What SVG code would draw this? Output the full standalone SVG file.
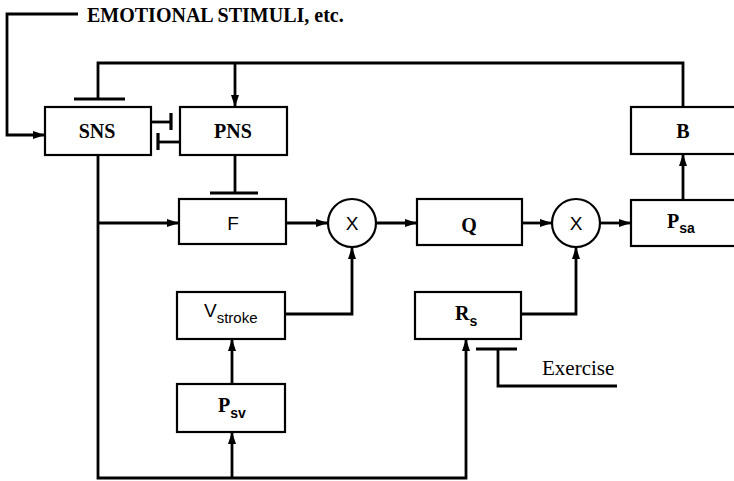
<svg xmlns="http://www.w3.org/2000/svg" width="734" height="481" viewBox="0 0 734 481">
<style>
.box{fill:#fff;stroke:#000;stroke-width:2.2}
.ln{fill:none;stroke:#000;stroke-width:2.8}
.bar{fill:none;stroke:#000;stroke-width:3.2}
.t{font-family:"Liberation Serif",serif;font-size:20px;font-weight:bold;fill:#000;text-anchor:middle}
.r{font-family:"Liberation Serif",serif;font-size:21px;fill:#000}
.s{font-family:"Liberation Sans",sans-serif;font-size:19px;fill:#000;text-anchor:middle}
.sub{font-family:"Liberation Sans",sans-serif;font-size:14px;font-weight:bold;fill:#000}
</style>
<defs>
<marker id="ah" viewBox="0 0 12 8" refX="12" refY="4" markerWidth="12" markerHeight="8" markerUnits="userSpaceOnUse" orient="auto">
<path d="M0,0 L12,4 L0,8 Z" fill="#000"/>
</marker>
</defs>
<rect width="734" height="481" fill="#fff"/>
<g id="connectors">
<path class="ln" d="M78,14 H7 V135 H45" marker-end="url(#ah)"/>
<path class="ln" d="M98,99 V63 H683 V107"/>
<path class="bar" d="M74,99 H125"/>
<path class="ln" d="M235,63 V107" marker-end="url(#ah)"/>
<path class="ln" d="M151,122 H171"/>
<path class="bar" d="M171,113 V130"/>
<path class="ln" d="M180,142 H158"/>
<path class="bar" d="M158,133 V150"/>
<path class="ln" d="M235,155 V193"/>
<path class="bar" d="M210,193 H258"/>
<path class="ln" d="M98,155 V478 H466 V339" marker-end="url(#ah)"/>
<path class="ln" d="M98,223 H179" marker-end="url(#ah)"/>
<path class="ln" d="M232,478 V432" marker-end="url(#ah)"/>
<path class="ln" d="M232,384 V339" marker-end="url(#ah)"/>
<path class="ln" d="M286,223 H328" marker-end="url(#ah)"/>
<path class="ln" d="M376,223 H417" marker-end="url(#ah)"/>
<path class="ln" d="M522,223 H552" marker-end="url(#ah)"/>
<path class="ln" d="M600,223 H631" marker-end="url(#ah)"/>
<path class="ln" d="M285,314 H352 V247" marker-end="url(#ah)"/>
<path class="ln" d="M521,314 H576 V247" marker-end="url(#ah)"/>
<path class="ln" d="M683,200 V154" marker-end="url(#ah)"/>
<path class="bar" d="M476,349 H517"/>
<path class="ln" d="M498,349 V386 H617"/>
</g>
<text class="t" x="87" y="22" style="text-anchor:start">EMOTIONAL STIMULI, etc.</text>
<text class="r" x="542" y="375">Exercise</text>
<g id="SNS"><rect class="box" x="45" y="107" width="106" height="48"/><text class="t" x="97" y="138">SNS</text></g>
<g id="PNS"><rect class="box" x="180" y="107" width="107" height="48"/><text class="t" x="233" y="138">PNS</text></g>
<g id="F"><rect class="box" x="179" y="199" width="107" height="45"/><text class="s" x="233" y="230">F</text></g>
<g id="X1"><circle class="box" cx="352" cy="223" r="24"/><text class="s" x="352" y="230">X</text></g>
<g id="Q"><rect class="box" x="417" y="199" width="105" height="46"/><text class="t" x="469" y="232">Q</text></g>
<g id="X2"><circle class="box" cx="576" cy="223" r="24"/><text class="s" x="576" y="230">X</text></g>
<g id="Psa"><rect class="box" x="631" y="200" width="110" height="46"/><text class="t" x="667" y="228" style="text-anchor:start">P<tspan class="sub" dy="5">sa</tspan></text></g>
<g id="B"><rect class="box" x="631" y="107" width="110" height="47"/><text class="t" x="683" y="138">B</text></g>
<g id="Vstroke"><rect class="box" x="177" y="292" width="108" height="47"/><text class="s" x="204" y="317" style="text-anchor:start">V<tspan class="sub" dy="6" style="font-size:15px;font-weight:normal">stroke</tspan></text></g>
<g id="Psv"><rect class="box" x="177" y="384" width="108" height="48"/><text class="t" x="218" y="412" style="text-anchor:start">P<tspan class="sub" dy="6">sv</tspan></text></g>
<g id="Rs"><rect class="box" x="415" y="292" width="106" height="47"/><text class="t" x="455" y="320" style="text-anchor:start">R<tspan class="sub" dy="6">s</tspan></text></g>
</svg>
